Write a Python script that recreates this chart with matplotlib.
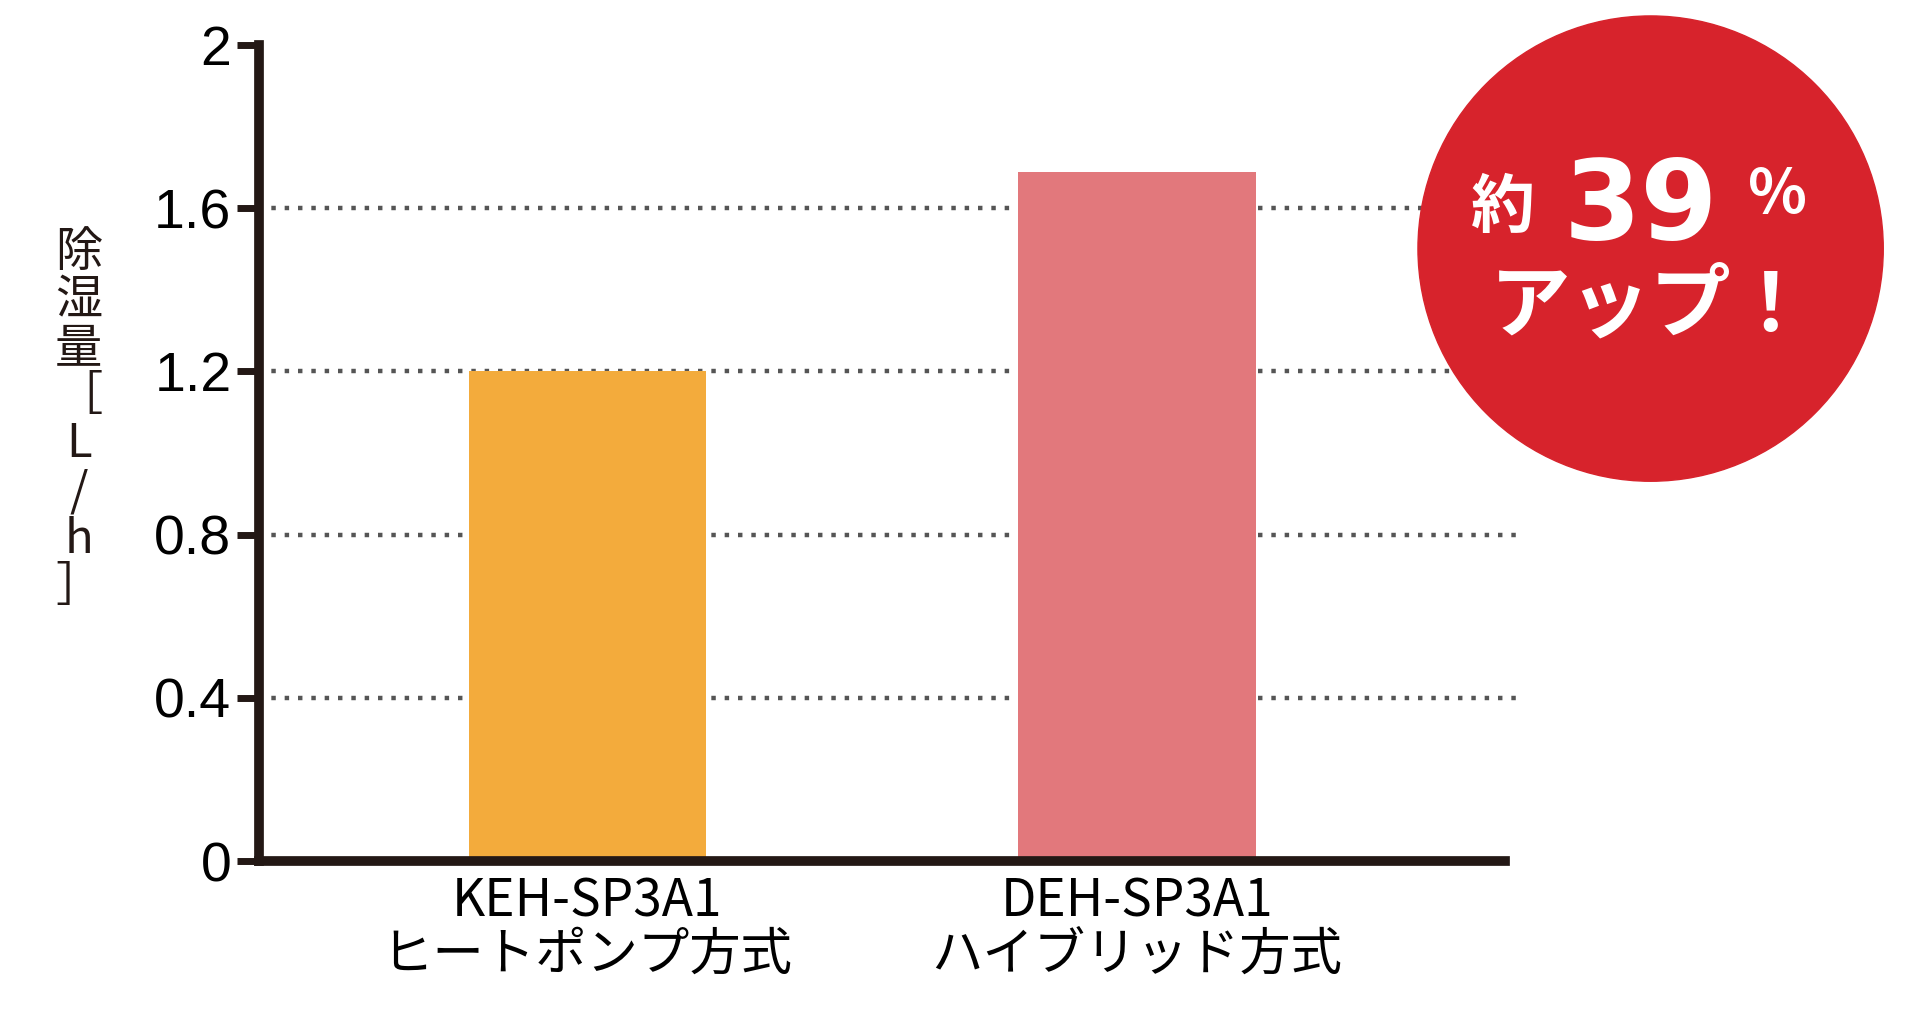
import matplotlib.pyplot as plt
from matplotlib.patches import Circle

plt.rcParams['font.family'] = ['Noto Sans CJK JP', 'DejaVu Sans']

models = ['KEH-SP3A1\nヒートポンプ方式', 'DEH-SP3A1\nハイブリッド方式']
values = [1.2, 1.69]
bar_colors = ['#F3AB3C', '#E2787C']
yticks = [0, 0.4, 0.8, 1.2, 1.6, 2]
ytick_labels = ['0', '0.4', '0.8', '1.2', '1.6', '2']

fig = plt.figure(figsize=(19.2, 10.25), dpi=100)
ax = fig.add_axes([0.135, 0.16, 0.649, 0.796])

for y in yticks[1:-1]:
    ax.plot([-0.6, 1.69], [y, y], color='#555555', linestyle=(0, (1, 2)), linewidth=3.2,
            zorder=0, clip_on=False)

ax.bar([0, 1], values, width=0.432, color=bar_colors, zorder=2)
ax.set_xlim(-0.597, 1.67)
ax.set_ylim(0, 2)
ax.set_xticks([0, 1])
ax.set_xticklabels(models, fontsize=37, linespacing=1.0)
ax.set_yticks(yticks)
ax.set_yticklabels(ytick_labels, fontsize=40, family='Liberation Sans')
ax.tick_params(axis='y', length=16, width=5, color='#231815', pad=4)
ax.tick_params(axis='x', length=0, pad=10)

for side in ['top', 'right']:
    ax.spines[side].set_visible(False)
for side in ['left', 'bottom']:
    ax.spines[side].set_linewidth(7)
    ax.spines[side].set_color('#231815')

fig.text(0.041, 0.59, '除\n湿\n量\n［\nL\n/\nh\n］', fontsize=34, ha='center', va='center',
         linespacing=0.98, color='#231815')

# red badge
cx, cy, r = 1348 / 1568 * 1920, (837 - 203) / 837 * 1025, 190 / 1568 * 1920
badge = Circle((cx, cy), r, transform=None, color='#D7232C', zorder=1)
fig.patches.append(badge)
fx = cx / 1920
fig.text(fx - 0.077, 0.797, '約', fontsize=46, color='white', weight='bold', ha='center',
         va='center', zorder=10)
fig.text(fx - 0.005, 0.797, '39', fontsize=80, color='white', weight='bold', ha='center',
         va='center', family='DejaVu Sans', zorder=10)
fig.text(fx + 0.066, 0.81, '%', fontsize=44, color='white', weight='bold', ha='center',
         va='center', zorder=10)
fig.text(fx, 0.7, 'アップ！', fontsize=58, color='white', weight='bold', ha='center',
         va='center', zorder=10)

fig.savefig('out.png', dpi=100)
